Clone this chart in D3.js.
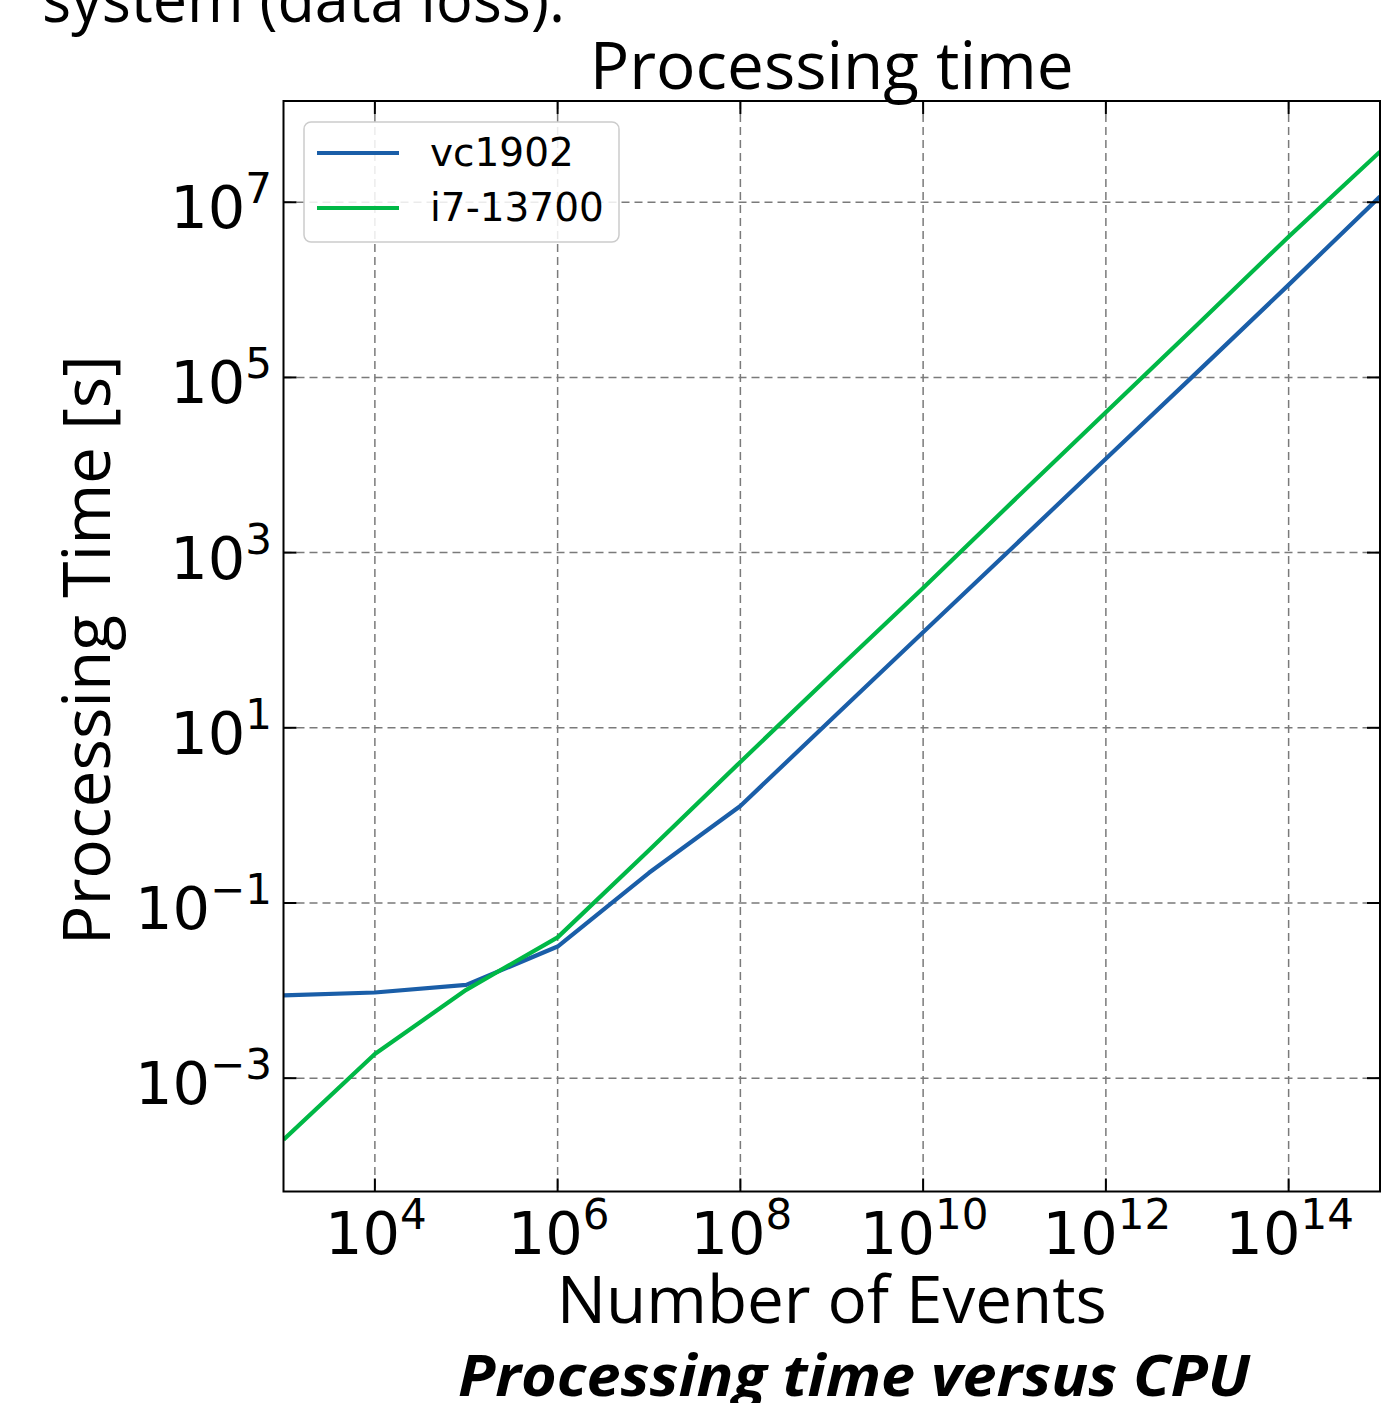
<!DOCTYPE html>
<html>
<head>
<meta charset="utf-8">
<script src="https://cdn.jsdelivr.net/npm/d3@7"></script>
<style>
  html, body { margin: 0; padding: 0; background: #ffffff; }
  svg { display: block; }
</style>
</head>
<body>
<svg id="chart" width="1387" height="1403"></svg>
<script>
// ---- data ----
const events = [1e3, 1e4, 1e5, 1e6, 1e7, 1e8, 1e9, 1e10, 1e11, 1e12, 1e13, 1e14, 1e15];
const vc1902 = [8.8e-3, 9.5e-3, 1.16e-2, 3.18e-2, 0.221, 1.28, 12.6, 123, 1200, 1.18e4, 1.15e5, 1.14e6, 1.16e7];
const i7_13700 = [1.98e-4, 1.89e-3, 1.02e-2, 4.05e-2, 0.40, 4.08, 40.5, 395, 4.0e3, 4.0e4, 4.0e5, 4.05e6, 3.78e7];
const seriesNames = ["vc1902", "i7-13700"];
const seriesColors = ["#1a5ea8", "#00b846"];
const xTickExps = [4, 6, 8, 10, 12, 14];
const yTickExps = [7, 5, 3, 1, -1, -3];
const titleText = "Processing time";
const xLabelText = "Number of Events";
const yLabelText = "Processing Time [s]";
const captionText = "Processing time versus CPU";
const topText = "system (data loss).";

// ---- layout ----
const svg = d3.select("#chart");
const L = 283.5, R = 1380, T = 101, B = 1191.5;

const x = d3.scaleLog().domain([1e3, 1e15]).range([L, R]);
const y = d3.scaleLog().domain([Math.pow(10, -4.294), Math.pow(10, 8.156)]).range([B, T]);

const sansFont = "'Open Sans', 'Noto Sans', sans-serif";
const tickFont = "'DejaVu Sans', sans-serif";

// background text from the surrounding document
svg.append("text")
  .attr("x", 42).attr("y", 22)
  .attr("font-family", sansFont).attr("font-size", 64)
  .attr("textLength", 523).attr("lengthAdjust", "spacingAndGlyphs")
  .attr("fill", "#000")
  .text(topText);

// title
svg.append("text")
  .attr("x", (L + R) / 2).attr("y", 89)
  .attr("text-anchor", "middle")
  .attr("font-family", sansFont).attr("font-size", 66)
  .attr("textLength", 484).attr("lengthAdjust", "spacingAndGlyphs")
  .attr("fill", "#000")
  .text(titleText);

// grid
const grid = svg.append("g");
grid.selectAll(".gx").data(xTickExps).enter().append("line")
  .attr("x1", d => x(Math.pow(10, d))).attr("x2", d => x(Math.pow(10, d)))
  .attr("y1", T).attr("y2", B)
  .attr("stroke", "#7a7a7a").attr("stroke-width", 1.5).attr("stroke-dasharray", "8,5");
grid.selectAll(".gy").data(yTickExps).enter().append("line")
  .attr("y1", d => y(Math.pow(10, d))).attr("y2", d => y(Math.pow(10, d)))
  .attr("x1", L).attr("x2", R)
  .attr("stroke", "#7a7a7a").attr("stroke-width", 1.5).attr("stroke-dasharray", "8,5");

// clip
svg.append("clipPath").attr("id", "plotclip")
  .append("rect").attr("x", L).attr("y", T).attr("width", R - L).attr("height", B - T);

// lines
const line = d3.line().x(d => x(d[0])).y(d => y(d[1]));
const seriesData = [vc1902, i7_13700];
const lines = svg.append("g").attr("clip-path", "url(#plotclip)");
seriesData.forEach((vals, i) => {
  lines.append("path")
    .datum(events.map((e, j) => [e, vals[j]]))
    .attr("d", line)
    .attr("fill", "none")
    .attr("stroke", seriesColors[i])
    .attr("stroke-width", 4.2)
    .attr("stroke-linejoin", "round");
});

// frame
svg.append("rect")
  .attr("x", L).attr("y", T).attr("width", R - L).attr("height", B - T)
  .attr("fill", "none").attr("stroke", "#000").attr("stroke-width", 2);

// ticks (inward, all four sides)
const tl = 13;
const ticks = svg.append("g").attr("stroke", "#000").attr("stroke-width", 2);
xTickExps.forEach(e => {
  const px = x(Math.pow(10, e));
  ticks.append("line").attr("x1", px).attr("x2", px).attr("y1", B).attr("y2", B - tl);
  ticks.append("line").attr("x1", px).attr("x2", px).attr("y1", T).attr("y2", T + tl);
});
yTickExps.forEach(e => {
  const py = y(Math.pow(10, e));
  ticks.append("line").attr("y1", py).attr("y2", py).attr("x1", L).attr("x2", L + tl);
  ticks.append("line").attr("y1", py).attr("y2", py).attr("x1", R).attr("x2", R - tl);
});

// tick labels
function expLabel(sel, e) {
  sel.append("tspan").text("10");
  sel.append("tspan")
    .attr("font-size", 42).attr("dy", -25)
    .text(e < 0 ? "\u2212" + Math.abs(e) : String(e));
}
xTickExps.forEach(e => {
  const t = svg.append("text")
    .attr("x", x(Math.pow(10, e)) + 1).attr("y", 1254)
    .attr("text-anchor", "middle")
    .attr("font-family", tickFont).attr("font-size", 59).attr("fill", "#000");
  expLabel(t, e);
});
yTickExps.forEach(e => {
  const t = svg.append("text")
    .attr("x", 272).attr("y", y(Math.pow(10, e)) + 26)
    .attr("text-anchor", "end")
    .attr("font-family", tickFont).attr("font-size", 59).attr("fill", "#000");
  expLabel(t, e);
});

// axis labels
svg.append("text")
  .attr("x", (L + R) / 2).attr("y", 1323)
  .attr("text-anchor", "middle")
  .attr("font-family", sansFont).attr("font-size", 66)
  .attr("textLength", 550).attr("lengthAdjust", "spacingAndGlyphs")
  .attr("fill", "#000")
  .text(xLabelText);

svg.append("text")
  .attr("transform", `translate(110, ${(T + B) / 2 + 4}) rotate(-90)`)
  .attr("text-anchor", "middle")
  .attr("font-family", sansFont).attr("font-size", 66)
  .attr("textLength", 590).attr("lengthAdjust", "spacingAndGlyphs")
  .attr("fill", "#000")
  .text(yLabelText);

// legend
const lg = svg.append("g");
lg.append("rect")
  .attr("x", 304).attr("y", 122).attr("width", 315).attr("height", 120)
  .attr("rx", 7).attr("fill", "#fff").attr("fill-opacity", 0.85)
  .attr("stroke", "#cccccc").attr("stroke-width", 1.5);
seriesNames.forEach((n, i) => {
  const ly = 153 + i * 55;
  lg.append("line").attr("x1", 317).attr("x2", 399).attr("y1", ly).attr("y2", ly)
    .attr("stroke", seriesColors[i]).attr("stroke-width", 4.2);
  lg.append("text").attr("x", 430).attr("y", ly + 13)
    .attr("font-family", tickFont).attr("font-size", 39).attr("fill", "#000")
    .text(n);
});

// caption
svg.append("text")
  .attr("x", 854).attr("y", 1396)
  .attr("text-anchor", "middle")
  .attr("font-family", sansFont).attr("font-size", 58)
  .attr("font-weight", 700).attr("font-style", "italic")
  .attr("textLength", 792).attr("lengthAdjust", "spacingAndGlyphs")
  .attr("fill", "#000")
  .text(captionText);
</script>
</body>
</html>
